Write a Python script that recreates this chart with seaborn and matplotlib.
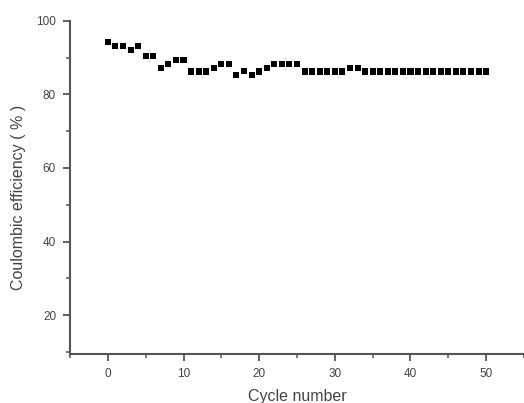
import matplotlib
matplotlib.use("Agg")
import matplotlib.pyplot as plt
import seaborn as sns
import numpy as np
import pandas as pd
from matplotlib.ticker import MultipleLocator

cycles = list(range(0, 51))
efficiency = [94.1, 93.2, 93.2, 92.0, 93.2, 90.3, 90.3, 87.2, 88.3, 89.2,
              89.2, 86.2, 86.2, 86.2, 87.2, 88.3, 88.3, 85.2, 86.3, 85.2,
              86.2, 87.2, 88.3, 88.3, 88.3, 88.3, 86.2, 86.2, 86.2, 86.2,
              86.2, 86.2, 87.2, 87.2, 86.2, 86.2, 86.2, 86.2, 86.2, 86.2,
              86.2, 86.2, 86.2, 86.2, 86.2, 86.2, 86.2, 86.2, 86.2, 86.2,
              86.2]
x_ticks = [0, 10, 20, 30, 40, 50]
y_ticks = [20, 40, 60, 80, 100]

df = pd.DataFrame({"cycle": cycles, "eff": efficiency})

sns.set_style("ticks")
plt.rcParams['font.family'] = ['Liberation Sans', 'DejaVu Sans']

fig = plt.figure(figsize=(5.24, 4.03), dpi=100)
ax = fig.add_axes([70/524, 1-354.3/403, 1-70/524, (354.3-20.7)/403])

sns.scatterplot(data=df, x="cycle", y="eff", marker="s", s=19, color="black",
                edgecolor="none", ax=ax, linewidth=0)

ax.set_xlim(-5, 55)
ax.set_ylim(9.4, 100)
ax.set_xticks(x_ticks)
ax.set_yticks(y_ticks)
ax.xaxis.set_minor_locator(MultipleLocator(5))
ax.yaxis.set_minor_locator(MultipleLocator(10))

spine_color = "#555555"
for s in ["top", "right"]:
    ax.spines[s].set_visible(False)
for s in ["left", "bottom"]:
    ax.spines[s].set_color(spine_color)
    ax.spines[s].set_linewidth(1.5)

ax.tick_params(which="major", direction="out", length=5, width=1.3, color=spine_color,
               labelsize=8.5, labelcolor="#444444", pad=5)
ax.tick_params(which="minor", direction="out", length=3, width=1.1, color=spine_color)

ax.set_xlabel("Cycle number", fontsize=11.5, color="#444444", labelpad=6)
ax.set_ylabel("Coulombic efficiency ( % )", fontsize=11.5, color="#444444")
ax.yaxis.set_label_coords(-0.097, 0.47)

fig.savefig("out.png", dpi=100)
